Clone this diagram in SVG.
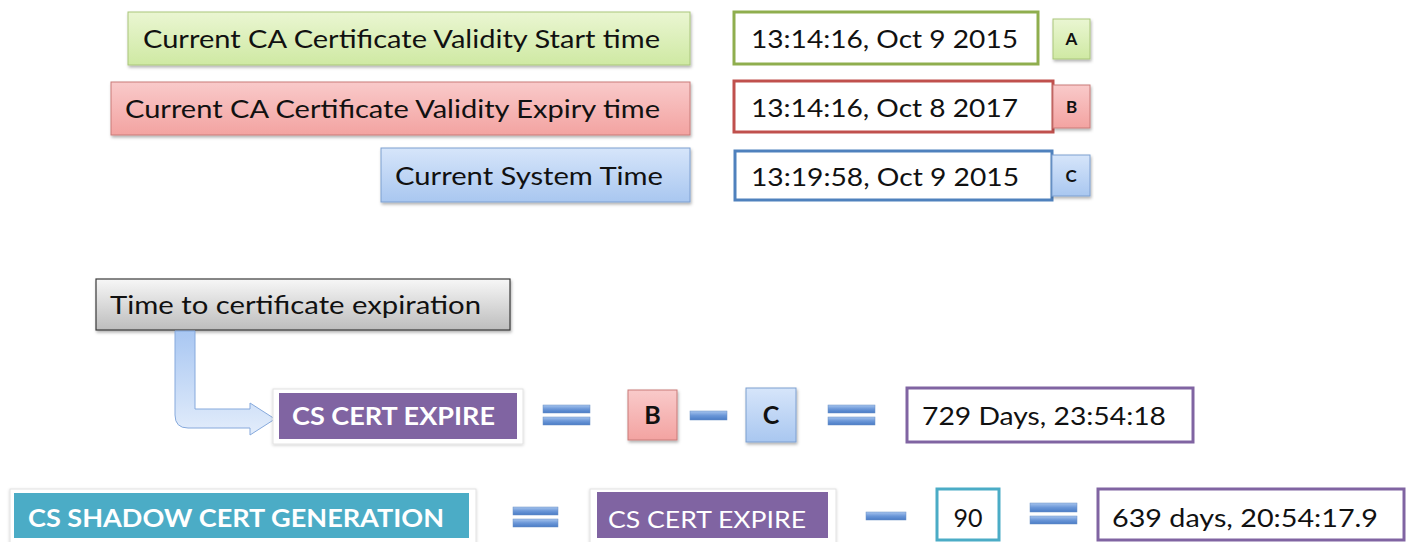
<svg xmlns="http://www.w3.org/2000/svg" width="1406" height="542" viewBox="0 0 1406 542">
<defs>
<linearGradient id="gGreen" x1="0" y1="0" x2="0" y2="1"><stop offset="0" stop-color="#eaf6d2"/><stop offset="1" stop-color="#cfe9a3"/></linearGradient>
<linearGradient id="gRed" x1="0" y1="0" x2="0" y2="1"><stop offset="0" stop-color="#f9caca"/><stop offset="1" stop-color="#f3a3a1"/></linearGradient>
<linearGradient id="gBlue" x1="0" y1="0" x2="0" y2="1"><stop offset="0" stop-color="#d6e5fa"/><stop offset="1" stop-color="#a9c7f0"/></linearGradient>
<linearGradient id="gGray" x1="0" y1="0" x2="0" y2="1"><stop offset="0" stop-color="#f7f7f7"/><stop offset="1" stop-color="#bdbdbd"/></linearGradient>
<linearGradient id="gBar" x1="0" y1="0" x2="0" y2="1"><stop offset="0" stop-color="#a6c4ee"/><stop offset="0.5" stop-color="#6b97d8"/><stop offset="1" stop-color="#4a7cc5"/></linearGradient>
<linearGradient id="gArrow" x1="0" y1="0" x2="0" y2="1"><stop offset="0" stop-color="#a9c7f2"/><stop offset="1" stop-color="#e3edfb"/></linearGradient>
<filter id="sh" x="-10%" y="-20%" width="120%" height="150%"><feDropShadow dx="1" dy="2" stdDeviation="1.5" flood-color="#000" flood-opacity="0.3"/></filter>
<filter id="shl" x="-10%" y="-20%" width="120%" height="150%"><feDropShadow dx="0" dy="1" stdDeviation="1.5" flood-color="#000" flood-opacity="0.18"/></filter>
</defs>
<style>
text{font-family:Lato,"Open Sans","Liberation Sans",sans-serif;fill:#111;}
.lbl{font-size:25px;}
.val{font-size:25px;}
.small{font-size:17px;font-weight:bold;text-anchor:middle;}
.letter{font-size:25px;font-weight:bold;text-anchor:middle;}
.wt{fill:#fff;font-size:24px;}
.bar{fill:url(#gBar);stroke:#6a8fc4;stroke-width:0.5;}
.frame{fill:#fff;stroke:#e2e2e2;stroke-width:1;}
</style>
<rect width="1406" height="542" fill="#fff"/>

<g id="label-start"><rect x="128" y="12" width="562" height="53" fill="url(#gGreen)" stroke="#a9c57a" stroke-width="1" filter="url(#sh)"/><text class="lbl" x="143" y="48" textLength="517" lengthAdjust="spacingAndGlyphs">Current CA Certificate Validity Start time</text></g>
<g id="label-expiry"><rect x="111" y="82" width="579" height="53" fill="url(#gRed)" stroke="#c97a78" stroke-width="1" filter="url(#sh)"/><text class="lbl" x="125" y="118" textLength="535" lengthAdjust="spacingAndGlyphs">Current CA Certificate Validity Expiry time</text></g>
<g id="label-system"><rect x="381" y="148" width="309" height="54" fill="url(#gBlue)" stroke="#7c9fd0" stroke-width="1" filter="url(#sh)"/><text class="lbl" x="395" y="185" textLength="268" lengthAdjust="spacingAndGlyphs">Current System Time</text></g>

<g id="value-start"><rect x="734" y="12" width="304" height="52" fill="#fff" stroke="#8fae4e" stroke-width="3"/><text class="val" x="751" y="48" textLength="267" lengthAdjust="spacingAndGlyphs">13:14:16, Oct 9 2015</text></g>
<g id="value-expiry"><rect x="734" y="81" width="319" height="51" fill="#fff" stroke="#c0504d" stroke-width="3"/><text class="val" x="751" y="117" textLength="267" lengthAdjust="spacingAndGlyphs">13:14:16, Oct 8 2017</text></g>
<g id="value-system"><rect x="735" y="151" width="317" height="49" fill="#fff" stroke="#4f81bd" stroke-width="3"/><text class="val" x="751" y="186" textLength="268" lengthAdjust="spacingAndGlyphs">13:19:58, Oct 9 2015</text></g>

<g id="tag-a"><rect x="1053" y="19" width="37" height="40" fill="url(#gGreen)" stroke="#a9c57a" stroke-width="1" filter="url(#sh)"/><text class="small" x="1071.5" y="45">A</text></g>
<g id="tag-b"><rect x="1053" y="85" width="37" height="43" fill="url(#gRed)" stroke="#c97a78" stroke-width="1" filter="url(#sh)"/><text class="small" x="1071.5" y="113">B</text></g>
<g id="tag-c"><rect x="1052" y="155" width="38" height="41" fill="url(#gBlue)" stroke="#7c9fd0" stroke-width="1" filter="url(#sh)"/><text class="small" x="1071" y="182">C</text></g>

<g id="time-to-expiration"><rect x="96" y="279" width="414" height="51" fill="url(#gGray)" stroke="#3a3a3a" stroke-width="1.2" filter="url(#sh)"/><text class="lbl" x="110" y="314" textLength="371" lengthAdjust="spacingAndGlyphs">Time to certificate expiration</text></g>

<g id="connectors">
<path d="M175,331 L195,331 L195,409 L250,409 L250,403 L275,419 L250,435 L250,428 L188,428 Q175,428 175,415 Z" fill="url(#gArrow)" stroke="#86a9dc" stroke-width="1"/>
</g>

<g id="cs-cert-expire"><rect class="frame" x="273" y="389" width="250" height="55" filter="url(#shl)"/><rect x="279" y="393" width="238" height="46" fill="#8064a2"/><text class="wt" x="292" y="425" font-weight="bold" textLength="203" lengthAdjust="spacingAndGlyphs">CS CERT EXPIRE</text></g>
<g id="eq1"><rect class="bar" x="543" y="405" width="47" height="8"/><rect class="bar" x="543" y="417" width="47" height="8"/></g>
<g id="b-box"><rect x="628" y="390" width="49" height="50" fill="url(#gRed)" stroke="#c97a78" stroke-width="1" filter="url(#sh)"/><text class="letter" x="652.5" y="424">B</text></g>
<g id="minus1"><rect class="bar" x="690" y="411" width="37" height="9"/></g>
<g id="c-box"><rect x="746" y="388" width="50" height="54" fill="url(#gBlue)" stroke="#7c9fd0" stroke-width="1" filter="url(#sh)"/><text class="letter" x="771" y="424">C</text></g>
<g id="eq2"><rect class="bar" x="828" y="405" width="47" height="8"/><rect class="bar" x="828" y="417" width="47" height="8"/></g>
<g id="result1"><rect x="907" y="388" width="286" height="54" fill="#fff" stroke="#8064a2" stroke-width="3"/><text class="val" x="922" y="425" textLength="244" lengthAdjust="spacingAndGlyphs">729 Days, 23:54:18</text></g>

<g id="cs-shadow"><rect class="frame" x="10" y="489" width="466" height="56" filter="url(#shl)"/><rect x="14" y="493" width="455" height="45" fill="#4bacc6"/><text class="wt" x="28" y="527" font-weight="bold" textLength="416" lengthAdjust="spacingAndGlyphs">CS SHADOW CERT GENERATION</text></g>
<g id="eq3"><rect class="bar" x="513" y="507" width="45" height="8"/><rect class="bar" x="513" y="519" width="45" height="8"/></g>
<g id="cs-cert-expire-2"><rect class="frame" x="590" y="489" width="246" height="56" filter="url(#shl)"/><rect x="597" y="492" width="231" height="46" fill="#8064a2"/><text class="wt" x="608" y="528" textLength="198" lengthAdjust="spacingAndGlyphs">CS CERT EXPIRE</text></g>
<g id="minus2"><rect class="bar" x="866" y="512" width="40" height="8"/></g>
<g id="ninety"><rect x="937" y="489" width="62" height="51" fill="#fff" stroke="#4bacc6" stroke-width="3"/><text class="val" x="968" y="527" text-anchor="middle">90</text></g>
<g id="eq4"><rect class="bar" x="1030" y="503" width="47" height="9"/><rect class="bar" x="1030" y="516" width="47" height="8"/></g>
<g id="result2"><rect x="1098" y="489" width="306" height="51" fill="#fff" stroke="#8064a2" stroke-width="3"/><text class="val" x="1112" y="527" textLength="266" lengthAdjust="spacingAndGlyphs">639 days, 20:54:17.9</text></g>
</svg>
